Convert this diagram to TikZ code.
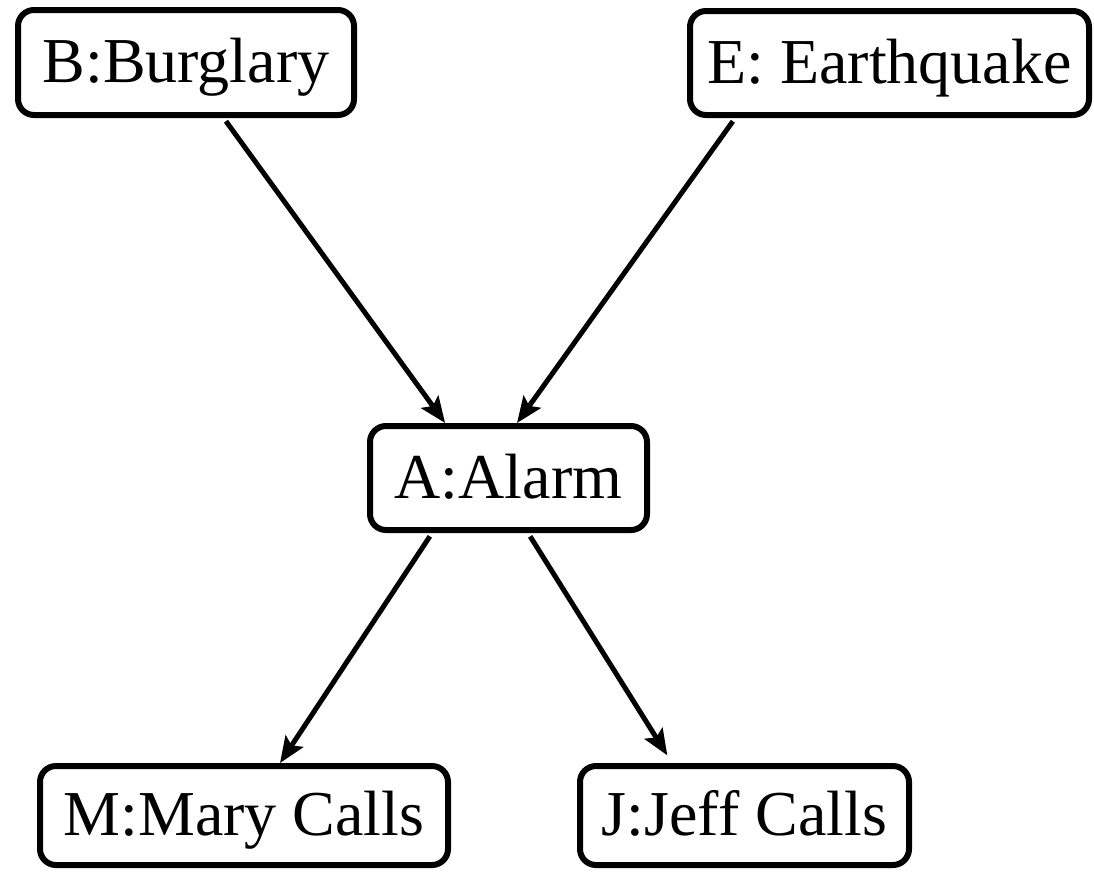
\documentclass[tikz,border=0pt]{standalone}
\usepackage{fontspec}
\setmainfont{Liberation Serif}
\usetikzlibrary{calc,arrows.meta}
\begin{document}
\begin{tikzpicture}[x=1pt,y=-1pt,
  var/.style={draw=black, line width=6pt, rounded corners=16pt, fill=white,
    inner sep=0pt, text height=51pt, text depth=11pt,
    font=\fontsize{64}{76}\selectfont},
  edge/.style={line width=5pt, -{Stealth[length=26pt,width=21pt,inset=5pt]}}]
\useasboundingbox (0,0) rectangle (1094,871);

% variables of the network
\node[var, minimum width=336pt, minimum height=105pt] (B) at (186,62.5) {B:Burglary};
\node[var, minimum width=399pt, minimum height=104pt] (E) at (889.5,63) {E: Earthquake};
\node[var, minimum width=277pt, minimum height=104pt] (A) at (508.5,478) {A:Alarm};
\node[var, minimum width=408pt, minimum height=99pt] (M) at (244,815.5) {M:Mary Calls};
\node[var, minimum width=329pt, minimum height=99pt] (J) at (744.5,815.5) {J:Jeff Calls};

% causal links
\draw[edge, shorten <=4pt] ($(B.south west)!0.61!(B.south east)$) -- ($(A.north west)!0.276!(A.north east)$);
\draw[edge, shorten <=4pt] ($(E.south west)!0.119!(E.south east)$) -- ($(A.north west)!0.53!(A.north east)$);
\draw[edge, shorten <=4pt] ($(A.south west)!0.23!(A.south east)$) -- ($(M.north west)!0.587!(M.north east)$);
\draw[edge, shorten <=4pt, shorten >=9pt] ($(A.south west)!0.569!(A.south east)$) -- ($(J.north west)!0.284!(J.north east)$);
\end{tikzpicture}
\end{document}
